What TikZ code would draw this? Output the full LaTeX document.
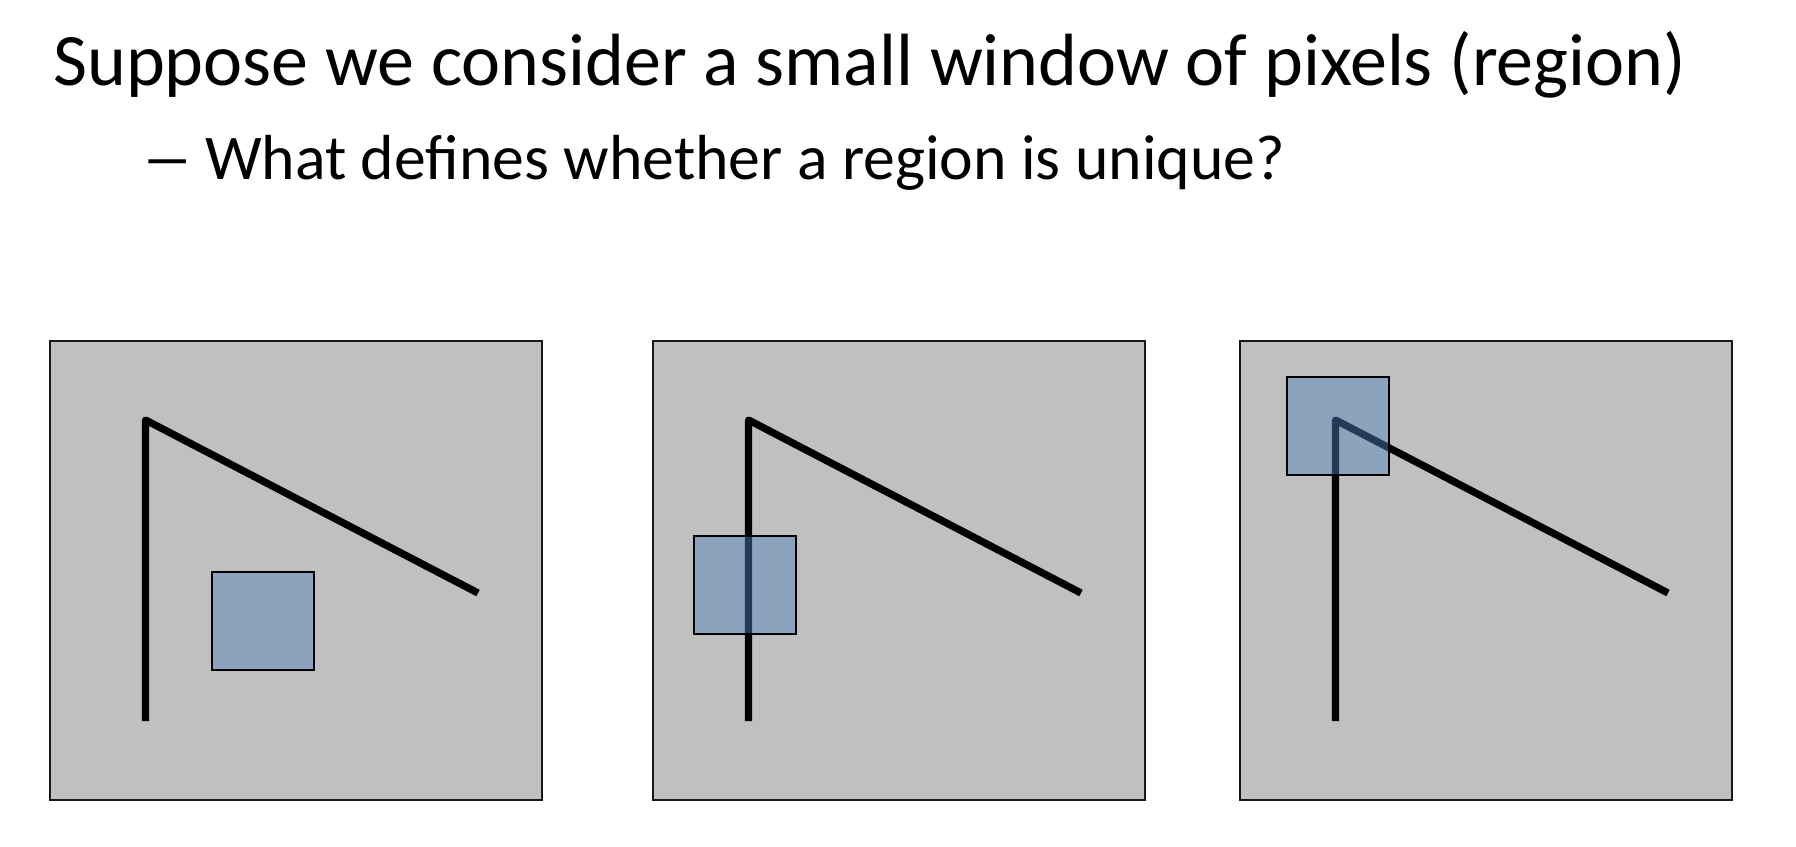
\documentclass[tikz,border=0pt]{standalone}
\usepackage{fontspec}
\setmainfont{Carlito}
\usepackage{xcolor}
\usepackage{graphicx}
\usepackage{tikz}
\usetikzlibrary{positioning,calc}

\definecolor{panelgray}{RGB}{192,192,192}
\definecolor{winblue}{RGB}{79,129,189}

\begin{document}
\begin{tikzpicture}[x=1pt,y=-1pt]
        % Style cho khung ảnh, cửa sổ và nét vẽ
        \tikzstyle{panel} = [
            draw=black!90,
            line width=1.5pt,
            fill=panelgray,
            minimum width=492pt,
            minimum height=459pt,
            inner sep=0pt,
            outer sep=0pt,
            anchor=north west
        ]
        \tikzstyle{window} = [
            draw=black,
            line width=1.5pt,
            fill=winblue,
            fill opacity=0.46,
            draw opacity=1,
            minimum width=102pt,
            minimum height=98pt,
            inner sep=0pt,
            outer sep=0pt,
            anchor=north west
        ]
        \tikzstyle{stroke} = [black, line width=7.3pt, line join=round]
        \tikzstyle{txt} = [anchor=base west, inner sep=0pt]

        % Khung nền
        \useasboundingbox (0,0) rectangle (1796,846);

        % Tiêu đề và dòng con
        \node[txt, font=\fontsize{74}{80}\selectfont] (title) at (53,85)
            {Suppose we consider a small window of pixels (region)};
        \node[txt, font=\fontsize{63.7}{70}\selectfont] (dash) at (141,179) {\scalebox{1.65}[1]{–}};
        \node[txt, font=\fontsize{63.7}{70}\selectfont] (question) at (205,179)
            {What defines whether a region is unique?};

        % Ba khung ảnh
        \node[panel] (imgA) at (50,341) {};
        \node[panel] (imgB) at (653,341) {};
        \node[panel] (imgC) at (1240,341) {};

        % Đường gãy trong mỗi khung
        \draw[stroke] ($(imgA.north west)+(95.5,380)$) -- ($(imgA.north west)+(95.5,79)$)
            -- ($(imgA.north west)+(428,252)$);
        \draw[stroke] ($(imgB.north west)+(95.5,380)$) -- ($(imgB.north west)+(95.5,79)$)
            -- ($(imgB.north west)+(428,252)$);
        \draw[stroke] ($(imgC.north west)+(95.5,380)$) -- ($(imgC.north west)+(95.5,79)$)
            -- ($(imgC.north west)+(428,252)$);

        % Cửa sổ nhỏ (vùng pixel)
        \node[window] (winA) at ($(imgA.north west)+(162,231)$) {};
        \node[window] (winB) at ($(imgB.north west)+(41,195)$) {};
        \node[window] (winC) at ($(imgC.north west)+(47,36)$) {};

    \end{tikzpicture}
\end{document}
